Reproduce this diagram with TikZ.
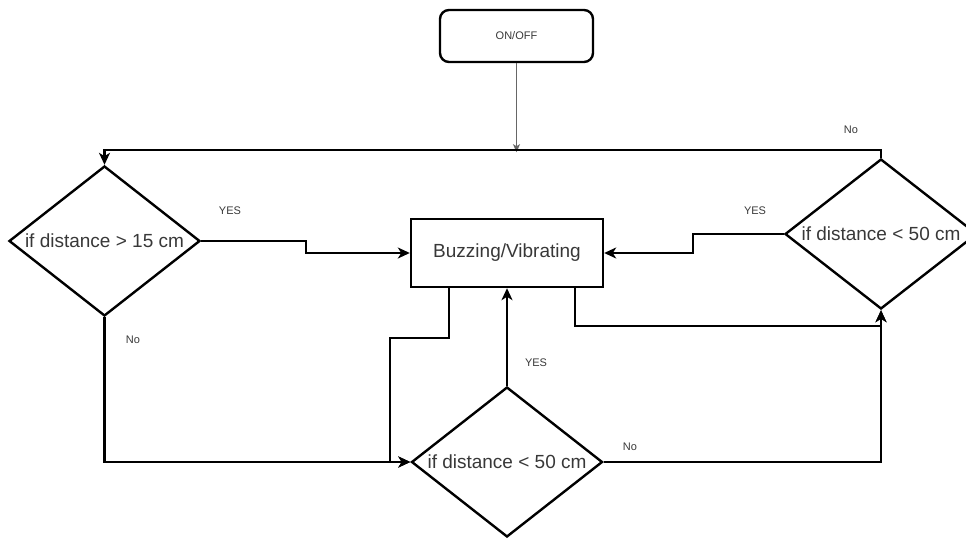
\documentclass[tikz,border=0pt]{standalone}
\usepackage{fontspec}
\setmainfont{Liberation Sans}
\usetikzlibrary{shapes.geometric,arrows.meta}
\definecolor{txt}{HTML}{383838}
\tikzset{
  ln/.style={line width=2.4pt, black, line join=miter},
  arr/.style={ln, -{Stealth[length=12pt,width=11pt,inset=3.5pt]}},
  thinarr/.style={line width=1pt, black!60, -{Stealth[length=8pt,width=7pt,inset=2pt]}},
  dec/.style={draw, line width=2.4pt, shape=diamond, shape aspect=1.27, inner sep=0pt,
    minimum width=191pt, minimum height=150pt, text=txt, font=\fontsize{19}{22}\selectfont},
  boxnode/.style={draw, line width=2.4pt, rectangle, minimum width=192pt, minimum height=68pt,
    text=txt, font=\fontsize{19}{22}\selectfont},
  startnode/.style={draw, line width=2.4pt, rectangle, rounded corners=9pt, minimum width=153pt,
    minimum height=52pt, text=txt, font=\fontsize{11}{13}\selectfont},
  lbl/.style={text=txt, font=\fontsize{11}{13}\selectfont, inner sep=0pt}
}
\begin{document}
\begin{tikzpicture}[x=1pt,y=-1pt]
\useasboundingbox (0,0) rectangle (966,538);
\node[startnode] (onoff) at (516.5,36) {ON/OFF};
\node[boxnode] (box) at (507,253) {Buzzing/Vibrating};
\node[dec] (d1) at (104.5,241) {if distance > 15 cm};
\node[dec] (d2) at (507,462) {if distance < 50 cm};
\node[dec, minimum width=192pt] (d3) at (881,234) {if distance < 50 cm};

\node[lbl] (y1) at (230,211) {YES};
\node[lbl] (y3) at (755,211) {YES};
\node[lbl] (n3) at (851,130) {No};
\node[lbl] (n1) at (133,340) {No};
\node[lbl] (y2) at (536,363) {YES};
\node[lbl] (n2) at (630,447) {No};

% ON/OFF to loop line
\draw[thinarr] (onoff.south) -- ++(0,89);
% right diamond No -> top loop -> left diamond
\draw[arr] (d3.north) -- ++(0,-8) -| (d1.north);
% left diamond YES -> box
\draw[arr] (d1.east) -- ++(105,0) |- (box.west);
% right diamond YES -> box
\draw[arr] (d3.west) -- ++(-91,0) |- (box.east);
% left diamond No -> bottom diamond
\draw[arr] (d1.south) |- (d2.west);
% box -> bottom diamond
\draw[arr] ([xshift=39pt]box.south west) -- ++(0,50) -- ++(-59,0) |- (d2.west);
% bottom diamond YES -> box
\draw[arr] (d2.north) -- (box.south);
% bottom diamond No -> right diamond
\draw[arr] (d2.east) -| (d3.south);
% box -> right diamond
\draw[arr] ([xshift=-29pt]box.south east) -- ++(0,38) -| (d3.south);
\end{tikzpicture}
\end{document}
